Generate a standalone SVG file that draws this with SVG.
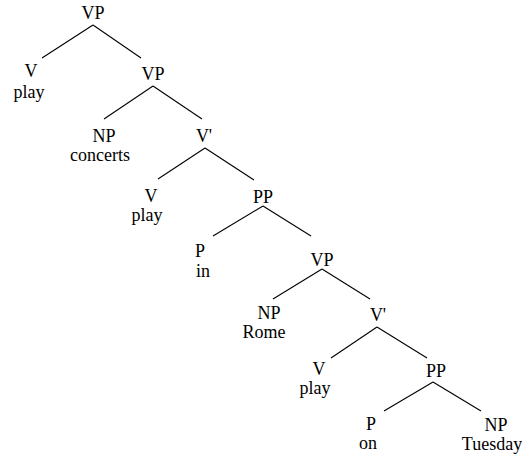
<svg xmlns="http://www.w3.org/2000/svg" width="522" height="455" viewBox="0 0 522 455">
<style>
text{font-size:18px;fill:#000;text-anchor:middle}
.e{stroke:#000;stroke-width:1.1;fill:none}
</style>
<rect width="522" height="455" fill="#fff"/>
<g id="connectors" class="e">
<line x1="93" y1="25" x2="42" y2="58"/>
<line x1="93" y1="25" x2="141" y2="58"/>
<line x1="153" y1="86" x2="104" y2="119"/>
<line x1="153" y1="86" x2="202" y2="119"/>
<line x1="205" y1="148" x2="158" y2="179"/>
<line x1="205" y1="148" x2="254" y2="180"/>
<line x1="263" y1="206" x2="213" y2="236"/>
<line x1="263" y1="206" x2="311" y2="236"/>
<line x1="322" y1="269" x2="273" y2="299"/>
<line x1="322" y1="269" x2="370" y2="299"/>
<line x1="377" y1="327" x2="331" y2="358"/>
<line x1="377" y1="327" x2="427" y2="358"/>
<line x1="433" y1="382" x2="384" y2="411"/>
<line x1="433" y1="382" x2="481" y2="411"/>
</g>
<g font-family="Liberation Serif" style="font-family:'Liberation Serif',serif">
<g id="n1"><text x="93" y="19">VP</text></g>
<g id="n2"><text x="31" y="77">V</text><text x="29" y="98">play</text></g>
<g id="n3"><text x="153" y="80">VP</text></g>
<g id="n4"><text x="104" y="142">NP</text><text x="100" y="161">concerts</text></g>
<g id="n5"><text x="204" y="142">V'</text></g>
<g id="n6"><text x="151" y="202">V</text><text x="147" y="221">play</text></g>
<g id="n7"><text x="263" y="203">PP</text></g>
<g id="n8"><text x="200" y="257">P</text><text x="203" y="277">in</text></g>
<g id="n9"><text x="322" y="266">VP</text></g>
<g id="n10"><text x="269" y="319">NP</text><text x="264" y="338">Rome</text></g>
<g id="n11"><text x="378" y="321">V'</text></g>
<g id="n12"><text x="319" y="375">V</text><text x="315" y="394">play</text></g>
<g id="n13"><text x="436" y="377">PP</text></g>
<g id="n14"><text x="371" y="430">P</text><text x="368" y="449">on</text></g>
<g id="n15"><text x="496" y="431">NP</text><text x="492" y="450">Tuesday</text></g>
</g>
</svg>
